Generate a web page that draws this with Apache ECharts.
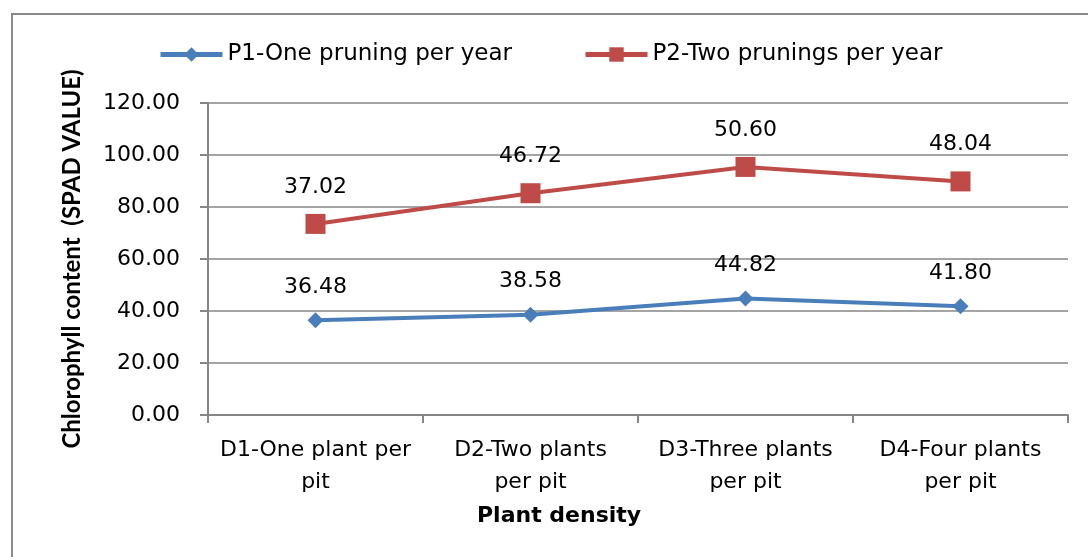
<!DOCTYPE html>
<html><head><meta charset="utf-8">
<script src="https://cdn.jsdelivr.net/npm/echarts@6/dist/echarts.min.js"></script>
<style>html,body{margin:0;padding:0;background:#fff}#c{width:1088px;height:557px}</style>
</head><body><div id="c"></div>
<script>
const categories = ['D1-One plant per\npit', 'D2-Two plants\nper pit', 'D3-Three plants\nper pit', 'D4-Four plants\nper pit'];
const p1Values = [36.48, 38.58, 44.82, 41.80];
const p2Values = [37.02, 46.72, 50.60, 48.04];
const seriesNames = ['P1-One pruning per year', 'P2-Two prunings per year'];
const yTicks = [0, 20, 40, 60, 80, 100, 120];

const FONT = '"DejaVu Sans"';
const BLUE = '#4A7EBB', RED = '#BE4B48';
const chart = echarts.init(document.getElementById('c'), null, {renderer: 'canvas'});
const legendCommon = {
  top: 38, itemWidth: 62, itemHeight: 18, itemGap: 10,
  lineStyle: {width: 5},
  textStyle: {fontSize: 23, color: '#000', fontFamily: FONT}
};
chart.setOption({
  animation: false,
  textStyle: {fontFamily: FONT},
  graphic: [
    {type: 'rect', shape: {x: 12, y: 14, width: 1100, height: 600}, style: {fill: 'none', stroke: '#8a8a8a', lineWidth: 2}, z: -1},
    {type: 'text', left: 477, top: 505, style: {text: 'Plant density', font: 'bold 22px ' + FONT, fill: '#000'}}
  ],
  legend: [
    Object.assign({left: 153, data: [seriesNames[0]]}, legendCommon),
    Object.assign({left: 578, data: [seriesNames[1]]}, legendCommon)
  ],
  grid: {left: 208, right: 20, top: 103, bottom: 142},
  xAxis: {
    type: 'category', data: categories, boundaryGap: true,
    axisLine: {lineStyle: {color: '#868686', width: 2}},
    axisTick: {show: true, length: 8, lineStyle: {color: '#868686', width: 2}},
    axisLabel: {fontSize: 22, color: '#000', margin: 19, lineHeight: 32, interval: 0, fontFamily: FONT}
  },
  yAxis: {
    type: 'value', min: yTicks[0], max: yTicks[yTicks.length - 1], interval: yTicks[1] - yTicks[0],
    name: 'Chlorophyll content  (SPAD VALUE)', nameLocation: 'middle', nameGap: 124, nameRotate: 90,
    nameTextStyle: {fontSize: 24, fontWeight: 'bold', color: '#000', fontFamily: 'Lato'},
    axisLine: {show: true, lineStyle: {color: '#868686', width: 2}},
    axisTick: {show: true, length: 8, lineStyle: {color: '#868686', width: 2}},
    axisLabel: {fontSize: 22, color: '#000', margin: 28, fontFamily: FONT, formatter: v => v.toFixed(2)},
    splitLine: {lineStyle: {color: '#868686', width: 1.5}}
  },
  series: [
    {
      name: seriesNames[0], type: 'line', stack: 'total', data: p1Values,
      symbol: 'diamond', symbolSize: 16,
      lineStyle: {color: BLUE, width: 4}, itemStyle: {color: BLUE},
      label: {show: true, position: 'top', distance: 14, fontSize: 22, color: '#000', fontFamily: FONT, formatter: p => p.value.toFixed(2)}
    },
    {
      name: seriesNames[1], type: 'line', stack: 'total', data: p2Values,
      symbol: 'rect', symbolSize: 20,
      lineStyle: {color: RED, width: 4}, itemStyle: {color: RED},
      label: {show: true, position: 'top', distance: 16, fontSize: 22, color: '#000', fontFamily: FONT, formatter: p => p.value.toFixed(2)}
    }
  ]
});
</script></body></html>
